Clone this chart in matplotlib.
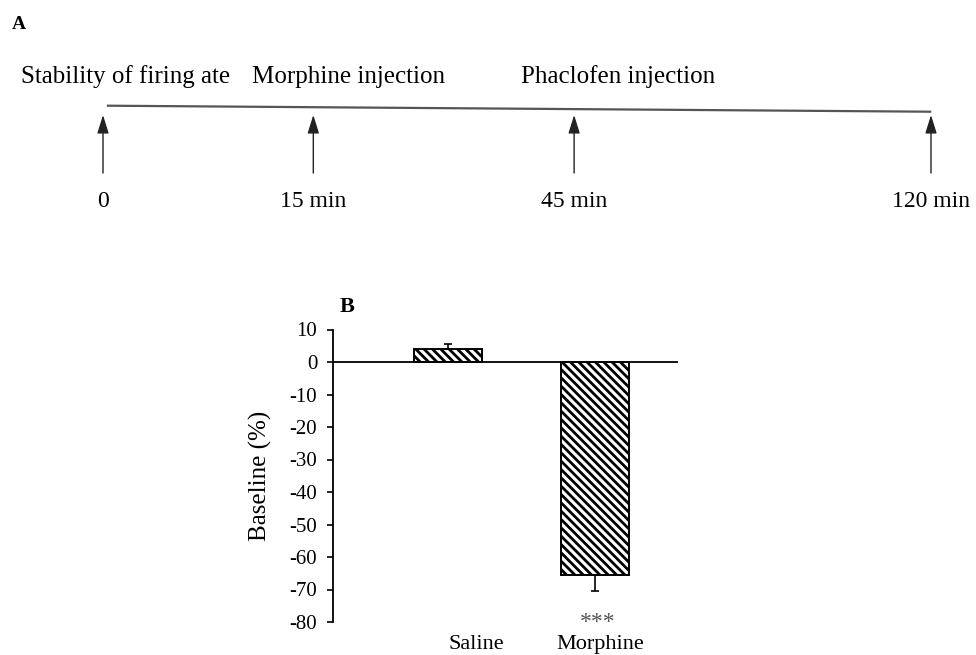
import matplotlib
matplotlib.use('Agg')
import matplotlib.pyplot as plt

plt.rcParams['font.family'] = ['Liberation Serif', 'DejaVu Serif']
plt.rcParams['axes.unicode_minus'] = False
plt.rcParams['hatch.linewidth'] = 2.0

# panel A: protocol timeline
stage_labels = ['Stability of firing ate', 'Morphine injection', 'Phaclofen injection']
time_labels = ['0', '15 min', '45 min', '120 min']

# panel B: firing rate change
groups = ['Saline', 'Morphine']
change = [4.0, -65.6]
err_low = [0.0, 4.8]
err_high = [1.5, 0.0]
yticks = list(range(-80, 11, 10))

# schematic layout of the timeline (0 = first arrow, 1 = last arrow)
arrow_pos = [0.0, 0.254, 0.569, 1.0]
stage_pos = [-0.099, 0.180, 0.505]

fig = plt.figure(figsize=(9.76, 6.55), dpi=100)

# ---- A ----
axa = fig.add_axes([103 / 976, 1 - 220 / 655, 828 / 976, 220 / 655])
axa.set_xlim(0, 1)
axa.set_ylim(220, 0)
axa.axis('off')

axa.plot([0.006, 0.999], [105.7, 111.7], color='#555555', lw=1.6, clip_on=False)
for x, lab in zip(arrow_pos, time_labels):
    axa.annotate('', xy=(x, 115), xytext=(x, 173),
                 arrowprops=dict(arrowstyle='-|>,head_length=0.8,head_width=0.25',
                                 mutation_scale=14, color='#222222', lw=1.0,
                                 shrinkA=0, shrinkB=0), annotation_clip=False)
    axa.text(x, 207, lab, ha='center', va='baseline', fontsize=17, clip_on=False)
for x, lab in zip(stage_pos, stage_labels):
    axa.text(x, 83, lab, ha='left', va='baseline', fontsize=18, clip_on=False)

fig.text(12 / 976, 1 - 29 / 655, 'A', fontsize=14, fontweight='bold', va='baseline')
fig.text(340 / 976, 1 - 312 / 655, 'B', fontsize=16, fontweight='bold', va='baseline')

# ---- B ----
ax = fig.add_axes([333 / 976, 1 - 622 / 655, 345 / 976, 292.5 / 655])
xs = list(range(len(groups)))
ax.bar(xs, change, width=0.464, color='white', edgecolor='black', lw=1.4,
       hatch='\\\\\\\\', zorder=2)
ax.errorbar(xs, change, yerr=[err_low, err_high], fmt='none', ecolor='black',
            elinewidth=1.2, capsize=3, capthick=1.2, zorder=3)
ax.axhline(0, color='black', lw=1.3, zorder=4)

ax.set_xlim(-0.788, 1.567)
ax.set_ylim(-80, 10)
ax.set_yticks(yticks)
ax.tick_params(axis='y', direction='out', length=4.3, width=1.2, pad=7, labelsize=15)
ax.set_xticks([])
for s in ['top', 'right', 'bottom']:
    ax.spines[s].set_visible(False)
ax.spines['left'].set_linewidth(1.3)

ax.set_ylabel('Baseline (%)', fontsize=18)
ax.yaxis.set_label_coords(-0.177, 0.5)

label_dx = [20, 3.6]
for x, g, dx in zip(xs, groups, label_dx):
    ax.annotate(g, xy=(x, -80), xytext=(dx, -9.4), textcoords='offset points',
                ha='center', va='top', fontsize=16, annotation_clip=False)

ax.annotate('***', xy=(1, -80), xytext=(2, -4), textcoords='offset points',
            ha='center', va='baseline', fontsize=17, color='#555555',
            annotation_clip=False)

fig.savefig('out.png', dpi=100)
